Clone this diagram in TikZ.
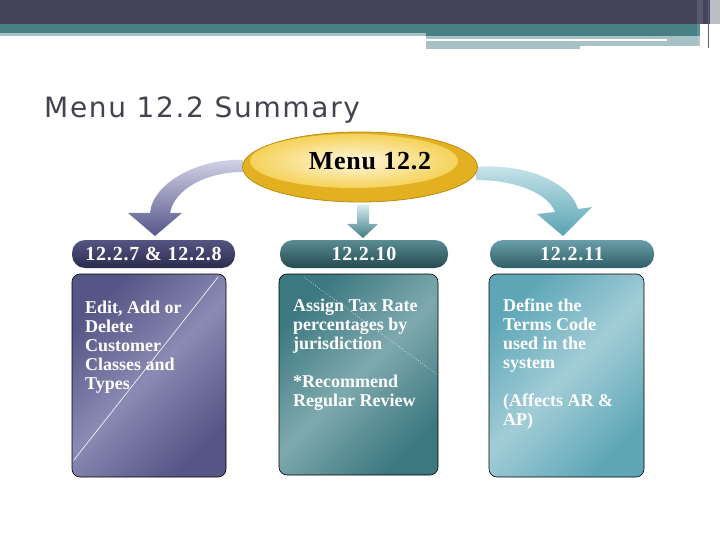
\documentclass[tikz,border=0pt]{standalone}
\usepackage{fontspec}
\setmainfont{Liberation Serif}
\newfontfamily\headfont[LetterSpace=4]{Liberation Serif}
\newfontfamily\menufont[LetterSpace=3]{Liberation Serif}
\newfontfamily\titlefont[LetterSpace=6]{DejaVu Sans}
\usetikzlibrary{shapes}
\usetikzlibrary{calc}

\definecolor{bandDark}{HTML}{43435A}
\definecolor{bandTeal}{HTML}{477F84}
\definecolor{bandLight}{HTML}{A7C1C4}
\definecolor{titleGray}{HTML}{43434D}
\definecolor{goldOut}{HTML}{E2B021}
\definecolor{goldMid}{HTML}{F5D25A}
\definecolor{goldIn}{HTML}{FFF8E0}
\definecolor{goldEdge}{HTML}{B98C14}
\definecolor{lavL}{HTML}{D4D4E8}
\definecolor{lavD}{HTML}{55558A}
\definecolor{tealL}{HTML}{D6EBEF}
\definecolor{tealD}{HTML}{3F7C85}
\definecolor{aquaL}{HTML}{CBE6EC}
\definecolor{aquaD}{HTML}{5AA3B3}
\definecolor{hdPurL}{HTML}{555584}
\definecolor{hdPurD}{HTML}{2B2B4E}
\definecolor{hdTealL}{HTML}{5A8C92}
\definecolor{hdTealD}{HTML}{244A50}
\definecolor{hdAquaL}{HTML}{6A9EA8}
\definecolor{hdAquaD}{HTML}{2E5E67}
\definecolor{purD}{HTML}{555586}
\definecolor{purL}{HTML}{8A8AB4}
\definecolor{tbD}{HTML}{3C7880}
\definecolor{tbL}{HTML}{7EA9AE}
\definecolor{abD}{HTML}{5EA6B6}
\definecolor{abL}{HTML}{A2CDD7}

\tikzset{
  header/.style={rounded corners=13pt, minimum height=28pt, inner sep=0pt, text=white,
    font=\headfont\bfseries\fontsize{20}{22}\selectfont},
  box/.style={draw=black, line width=0.6pt, rounded corners=8pt, inner sep=0pt},
  boxtext/.style={anchor=north west, align=left, inner sep=0pt, text=white,
    font=\bfseries\fontsize{18}{19}\selectfont},
}

\begin{document}
\begin{tikzpicture}[x=1pt,y=-1pt]
\useasboundingbox (0,0) rectangle (720,540);
% top band
\fill[bandDark] (0,0) rectangle (720,24);
\fill[bandTeal] (0,24) rectangle (700,36);
\fill[bandLight] (0,33) rectangle (426,36);
\fill[bandLight] (426,36) rectangle (700,46);
\fill[white] (426,39) rectangle (667,41.5);
\fill[bandLight] (426,46) rectangle (580,49);
\fill[white, opacity=0.12] (697,0) rectangle (703,46);
\fill[white, opacity=0.65] (710,0) rectangle (720,46);
\draw[bandDark!85, line width=1pt] (708,0) -- (708,48);

\node (title) [anchor=base west, inner sep=0pt, text=titleGray, font=\titlefont\fontsize{28}{30}\selectfont] at (44,118) {Menu 12.2 Summary};

% arrows out of the ellipse
\shade[top color=lavL, bottom color=lavD] (243,160) .. controls (200,158) and (153,182) .. (150,213) -- (128,213) -- (155,236) -- (182,213) -- (170,213) .. controls (174,190) and (205,172) .. (243,172) -- cycle;
\shade[top color=tealL, bottom color=tealD] (357,205) -- (369,205) -- (369,224) -- (378,224) -- (363,238) -- (347,224) -- (357,224) -- cycle;
\shade[top color=aquaL, bottom color=aquaD] (476,167) .. controls (525,163) and (570,182) .. (578,209) -- (592,207) -- (563,236) -- (537,214) -- (555,212) .. controls (548,193) and (515,180) .. (476,180) -- cycle;

\node (menu) [ellipse, minimum width=235pt, minimum height=70pt, draw=goldEdge, line width=0.8pt, fill=goldOut] at (360,167) {};
\shade[inner color=goldIn, outer color=goldMid] (354,161) ellipse (104 and 27);
\draw[goldEdge!70, dotted, line width=0.4pt] (270,172) -- (398,145) -- (412,164);
\node (menutext) [font=\menufont\bfseries\fontsize{26}{28}\selectfont] at (370,161) {Menu 12.2};

% column heads
\node (h1) [header, minimum width=163pt, top color=hdPurL, bottom color=hdPurD] at (153.5,254) {12.2.7 \& 12.2.8};
\node (h2) [header, minimum width=168pt, top color=hdTealL, bottom color=hdTealD] at (364,254) {12.2.10};
\node (h3) [header, minimum width=164pt, top color=hdAquaL, bottom color=hdAquaD] at (572,254) {12.2.11};

% column boxes
\node (b1) [box, minimum width=154pt, minimum height=203pt, top color=purD, bottom color=purD, middle color=purL, shading angle=45] at (149,375.5) {};
\node (b2) [box, minimum width=159pt, minimum height=201pt, top color=tbD, bottom color=tbD, middle color=tbL, shading angle=45] at (358.5,374.5) {};
\node (b3) [box, minimum width=155pt, minimum height=203pt, top color=abD, bottom color=abD, middle color=abL, shading angle=45] at (566.5,375.5) {};
\draw[white, line width=0.6pt] ($(b1.north east)+(-8,3)$) -- ($(b1.south west)+(2,-17)$);
\draw[white, dotted, line width=0.6pt] ($(b2.north west)+(26,4)$) -- ($(b2.east)+(-1,0)$);

\node (t1) [boxtext] at (85,301) {Edit, Add or\\Delete\\Customer\\Classes and\\Types};
\node (t2) [boxtext] at (293,299) {Assign Tax Rate\\percentages by\\jurisdiction\\[19pt]*Recommend\\Regular Review};
\node (t3) [boxtext] at (503,299) {Define the\\Terms Code\\used in the\\system\\[19pt](Affects AR \&\\AP)};
\end{tikzpicture}
\end{document}
